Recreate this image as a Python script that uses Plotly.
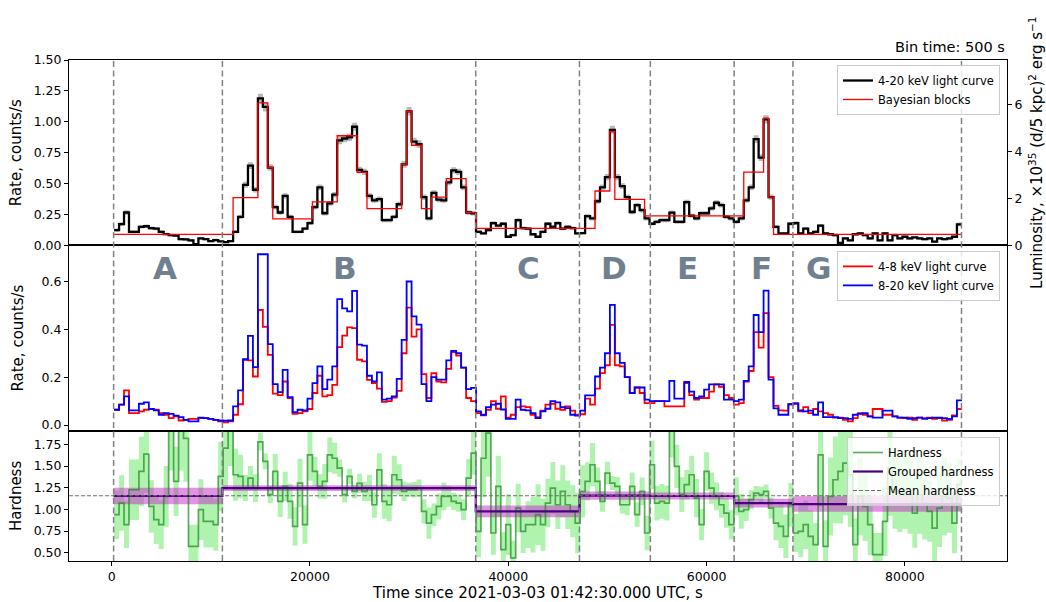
import numpy as np
import plotly.graph_objects as go

# ---------------- data ----------------
T0 = 250.0          # start of first bin, s
BIN = 500.0         # bin time, s

rate_total = [
0.123,0.172,0.266,0.11,0.11,0.15,0.155,0.14,0.135,0.11,0.091,0.083,0.08,0.05,0.048,0.04,0.01,0.056,0.05,0.035,
0.043,0.032,0.027,0.035,0.11,0.23,0.49,0.645,0.45,1.19,1.12,0.63,0.31,0.266,0.40,0.23,0.11,0.11,0.135,0.18,
0.31,0.47,0.26,0.34,0.41,0.85,0.865,0.875,0.96,0.61,0.595,0.40,0.365,0.375,0.204,0.204,0.23,0.333,0.655,1.085,
0.84,0.82,0.39,0.218,0.425,0.37,0.365,0.51,0.607,0.595,0.47,0.266,0.26,0.11,0.097,0.124,0.18,0.16,0.175,0.07,
0.083,0.204,0.14,0.135,0.09,0.07,0.11,0.175,0.15,0.18,0.135,0.15,0.14,0.097,0.1,0.236,0.218,0.357,0.47,0.553,
0.935,0.553,0.48,0.39,0.27,0.325,0.285,0.218,0.175,0.19,0.204,0.204,0.265,0.19,0.19,0.35,0.24,0.218,0.26,0.26,
0.30,0.345,0.325,0.23,0.218,0.19,0.218,0.365,0.47,0.86,0.71,1.02,0.39,0.15,0.097,0.097,0.175,0.18,0.097,0.135,
0.097,0.11,0.16,0.097,0.09,0.083,0.02,0.056,0.04,0.09,0.097,0.083,0.056,0.097,0.04,0.097,0.04,0.083,0.056,0.07,
0.056,0.065,0.056,0.05,0.056,0.03,0.056,0.05,0.056,0.07,0.17]

rate_total_err = [
0.013,0.015,0.018,0.012,0.012,0.014,0.014,0.013,0.013,0.012,0.011,0.011,0.011,0.01,0.01,0.01,0.008,0.01,0.01,0.009,0.01,0.009,0.009,0.009,
0.012,0.017,0.024,0.027,0.023,
0.037,0.036,0.027,
0.019,0.018,0.022,0.017,0.012,0.012,0.013,0.015,
0.019,0.023,0.018,0.02,0.022,
0.031,0.031,0.031,0.033,0.027,0.026,
0.022,0.02,0.021,0.016,0.016,0.017,0.02,
0.027,0.035,0.03,0.03,
0.022,0.016,0.022,0.02,0.02,0.024,0.026,0.026,0.023,0.018,0.018,
0.012,0.011,0.012,0.015,0.014,0.015,0.01,0.011,0.016,0.013,0.013,0.011,0.01,0.012,0.015,0.014,0.015,0.013,0.014,0.013,0.011,0.011,0.017,0.016,
0.02,0.023,0.025,0.032,0.025,0.023,0.021,0.018,0.019,0.018,
0.016,0.015,0.015,0.016,0.016,0.018,0.015,0.015,0.02,0.016,0.016,0.017,0.017,0.018,0.02,0.019,0.016,0.016,0.015,0.016,
0.021,0.023,0.031,0.028,0.033,0.021,
0.014,0.011,0.011,0.015,0.015,0.011,0.013,0.011,0.012,0.014,0.011,0.011,0.011,0.008,0.01,0.009,0.011,0.011,0.011,0.01,
0.011,0.009,0.011,0.009,0.011,0.01,0.01,0.01,0.01,0.01,0.01,0.01,0.008,0.01,0.01,0.01,0.01,0.015]

rate_soft = [
0.064,0.085,0.145,0.05,0.05,0.057,0.064,0.067,0.064,0.05,0.043,0.029,0.036,0.019,0.022,0.026,0.026,0.029,0.029,0.026,
0.022,0.015,0.011,0.015,0.043,0.087,0.273,0.27,0.203,0.481,0.41,0.293,0.131,0.125,0.182,0.113,0.047,0.05,0.057,0.067,
0.134,0.206,0.12,0.125,0.168,0.326,0.374,0.408,0.405,0.273,0.266,0.189,0.175,0.152,0.097,0.1,0.115,0.143,0.30,0.491,
0.37,0.40,0.213,0.113,0.217,0.182,0.178,0.235,0.305,0.29,0.24,0.113,0.1,0.05,0.04,0.064,0.1,0.068,0.12,0.031,
0.043,0.075,0.078,0.075,0.043,0.033,0.06,0.085,0.089,0.068,0.064,0.078,0.06,0.043,0.045,0.11,0.085,0.152,0.217,0.25,
0.419,0.25,0.245,0.2,0.134,0.157,0.134,0.092,0.092,0.1,0.1,0.078,0.078,0.078,0.078,0.175,0.125,0.106,0.113,0.113,
0.14,0.17,0.16,0.125,0.113,0.085,0.092,0.182,0.226,0.388,0.324,0.468,0.2,0.08,0.061,0.06,0.087,0.09,0.057,0.075,
0.05,0.067,0.057,0.05,0.043,0.031,0.031,0.022,0.015,0.029,0.05,0.043,0.036,0.067,0.067,0.043,0.043,0.036,0.031,0.029,
0.031,0.022,0.031,0.029,0.031,0.026,0.029,0.019,0.022,0.04,0.067]

rate_hard = [
0.064,0.085,0.12,0.061,0.061,0.089,0.095,0.067,0.061,0.043,0.05,0.047,0.039,0.033,0.022,0.015,0.015,0.031,0.029,0.026,
0.022,0.019,0.018,0.019,0.078,0.145,0.275,0.373,0.242,0.714,0.714,0.338,0.171,0.138,0.231,0.117,0.054,0.064,0.061,0.11,
0.175,0.245,0.15,0.19,0.245,0.526,0.488,0.475,0.561,0.336,0.332,0.206,0.182,0.22,0.106,0.11,0.12,0.193,0.356,0.6,
0.454,0.42,0.171,0.1,0.2,0.19,0.19,0.27,0.31,0.3,0.24,0.15,0.155,0.057,0.043,0.075,0.085,0.089,0.065,0.026,
0.026,0.106,0.064,0.061,0.05,0.029,0.057,0.068,0.1,0.095,0.075,0.071,0.043,0.039,0.06,0.124,0.124,0.203,0.24,0.30,
0.502,0.30,0.26,0.2,0.134,0.157,0.157,0.106,0.1,0.1,0.1,0.1,0.185,0.11,0.11,0.18,0.14,0.113,0.12,0.148,
0.17,0.17,0.17,0.106,0.106,0.1,0.106,0.185,0.245,0.46,0.388,0.562,0.19,0.07,0.043,0.043,0.087,0.09,0.061,0.057,
0.06,0.043,0.095,0.033,0.033,0.033,0.029,0.029,0.026,0.043,0.047,0.05,0.036,0.031,0.031,0.06,0.06,0.036,0.031,0.031,
0.026,0.029,0.031,0.026,0.029,0.031,0.031,0.029,0.026,0.036,0.103]

hardness = [
0.939,1.073,0.824,1.227,1.227,1.438,1.638,1.035,0.882,0.824,1.15,2.0,1.323,2.0,1.82,0.574,0.574,0.997,0.862,0.862,
0.824,1.38,1.707,2.0,1.40,1.38,1.246,1.36,1.246,1.78,1.554,1.17,1.438,1.093,1.265,1.093,0.805,1.304,0.824,1.63,
1.438,1.265,1.323,1.63,1.59,1.476,1.17,1.38,1.208,1.30,1.208,1.246,1.054,1.457,1.093,1.054,1.40,1.342,1.208,1.227,
1.227,1.246,0.978,0.843,0.939,1.035,1.15,1.15,1.093,1.073,0.997,1.362,1.65,0.747,1.59,1.88,0.728,1.265,0.536,0.824,
0.44,1.016,0.747,0.824,0.824,0.939,0.824,1.073,1.246,1.054,1.208,1.054,0.978,0.843,1.208,1.323,1.515,1.323,1.093,1.419,
1.304,1.265,1.054,1.054,1.265,0.939,1.208,0.728,1.515,1.073,1.093,1.073,2.0,1.496,1.17,1.285,1.40,1.131,0.824,1.438,
1.246,1.15,1.054,0.958,0.824,1.15,0.978,0.997,1.112,1.189,1.17,1.208,1.016,0.843,0.805,0.69,1.054,0.728,0.747,0.824,
0.69,0.594,1.63,0.574,1.15,1.342,1.438,1.534,1.40,0.594,1.15,1.035,0.824,0.478,0.478,0.862,1.476,1.227,1.189,1.227,
1.17,0.958,1.17,1.073,0.978,0.785,1.016,1.15,1.131,0.843,1.285]

hardness_err = [
0.28,0.32,0.27,0.35,0.35,0.4,0.45,0.3,0.28,0.28,0.35,
0.55,0.4,0.55,0.5,
0.25,0.25,0.35,0.3,0.3,0.3,0.4,0.45,0.5,
0.3,0.25,
0.15,0.14,0.16,
0.1,0.09,0.1,
0.2,0.18,0.17,0.2,
0.22,0.28,0.22,0.3,
0.17,0.14,0.2,0.2,0.18,
0.1,0.09,0.09,0.08,0.11,0.11,
0.15,0.15,0.19,0.2,0.19,0.22,0.18,
0.11,0.08,0.09,0.1,
0.14,0.18,0.13,0.15,0.16,
0.12,0.1,0.1,0.12,
0.22,0.25,
0.3,0.45,0.5,0.25,0.35,0.2,0.35,0.2,0.28,0.25,0.27,0.32,0.35,0.3,0.28,0.3,0.28,0.3,0.28,0.3,0.35,0.3,0.22,0.25,
0.16,0.12,0.13,
0.08,0.11,0.1,0.12,
0.16,0.14,0.16,
0.2,0.28,0.2,0.2,0.2,0.4,0.25,0.2,0.17,0.22,0.22,0.18,0.22,0.18,0.16,0.15,0.17,0.17,0.22,0.2,
0.13,0.11,0.08,0.09,0.08,0.12,
0.2,0.25,0.25,0.25,0.22,0.3,0.28,0.3,0.25,0.6,0.3,0.45,0.5,0.6,0.6,0.6,0.3,0.45,0.4,0.35,
0.25,0.25,0.4,0.55,0.45,0.45,0.45,0.45,0.4,0.45,0.42,0.35,0.4,0.45,0.45,0.4,0.35,0.3]

# Bayesian blocks (edges in s, rates)
bb_edges = [250, 12250, 14750, 15750, 16250, 20250, 22750, 24750, 25750, 29250, 29750, 30250,
            31250, 32250, 33750, 35750, 36750, 48750, 50250, 50750, 53750, 63750, 65750, 66250,
            66750, 85750]
bb_rates = [0.089, 0.387, 1.153, 0.63, 0.215, 0.352, 0.887, 0.59, 0.298, 0.655, 1.085, 0.81,
            0.298, 0.39, 0.54, 0.265, 0.137, 0.44, 0.92, 0.373, 0.239, 0.593, 1.03, 0.39, 0.089]

# Intervals A..G
region_edges = [200, 11170, 36720, 47180, 54330, 62780, 68710, 85710]
region_names = ["A", "B", "C", "D", "E", "F", "G"]
label_times = [5430, 23540, 42050, 50700, 58050, 65490, 71330]
group_hard = [1.155, 1.245, 0.978, 1.16, 1.155, 1.073, 1.062]
group_hard_err = [0.096, 0.033, 0.067, 0.048, 0.04, 0.05, 0.09]
mean_hardness = 1.158

LUM_PER_RATE = 5.28   # 1 count/s -> 1e35 erg/s at 5 kpc

n = len(rate_total)
for arr in (rate_total_err, rate_soft, rate_hard, hardness, hardness_err):
    assert len(arr) == n, (len(arr), n)
assert len(bb_edges) == len(bb_rates) + 1

edges = T0 + BIN * np.arange(n + 1)


def stepy(v):
    v = list(v)
    return v + [v[-1]]


fig = go.Figure()
FONT = "DejaVu Sans"

# ---------- top panel ----------
rt = np.array(rate_total)
re = np.array(rate_total_err)
fig.add_trace(go.Scatter(x=edges, y=stepy(rt - re), mode="lines", line=dict(width=0, shape="hv"),
                         showlegend=False, hoverinfo="skip", xaxis="x3", yaxis="y5"))
fig.add_trace(go.Scatter(x=edges, y=stepy(rt + re), mode="lines", line=dict(width=0, shape="hv"),
                         fill="tonexty", fillcolor="rgba(128,128,128,0.55)",
                         showlegend=False, hoverinfo="skip", xaxis="x3", yaxis="y5"))
fig.add_trace(go.Scatter(x=edges, y=stepy(rt), mode="lines", name="4-20 keV light curve",
                         line=dict(color="black", width=2.3, shape="hv"),
                         xaxis="x3", yaxis="y5", legend="legend"))
fig.add_trace(go.Scatter(x=bb_edges, y=stepy(bb_rates), mode="lines", name="Bayesian blocks",
                         line=dict(color="red", width=1.3, shape="hv"),
                         xaxis="x3", yaxis="y5", legend="legend"))

# ---------- middle panel ----------
fig.add_trace(go.Scatter(x=edges, y=stepy(rate_soft), mode="lines", name="4-8 keV light curve",
                         line=dict(color="red", width=1.8, shape="hv"),
                         xaxis="x2", yaxis="y2", legend="legend2"))
fig.add_trace(go.Scatter(x=edges, y=stepy(rate_hard), mode="lines", name="8-20 keV light curve",
                         line=dict(color="blue", width=1.8, shape="hv"),
                         xaxis="x2", yaxis="y2", legend="legend2"))

# ---------- bottom panel ----------
h = np.array(hardness)
he = np.array(hardness_err)
fig.add_trace(go.Scatter(x=edges, y=stepy(h - he), mode="lines", line=dict(width=0, shape="hv"),
                         showlegend=False, hoverinfo="skip", xaxis="x", yaxis="y"))
fig.add_trace(go.Scatter(x=edges, y=stepy(h + he), mode="lines", line=dict(width=0, shape="hv"),
                         fill="tonexty", fillcolor="rgba(144,238,144,0.72)",
                         showlegend=False, hoverinfo="skip", xaxis="x", yaxis="y"))
gh = np.array(group_hard)
ge = np.array(group_hard_err)
fig.add_trace(go.Scatter(x=region_edges, y=stepy(gh - ge), mode="lines", line=dict(width=0, shape="hv"),
                         showlegend=False, hoverinfo="skip", xaxis="x", yaxis="y"))
fig.add_trace(go.Scatter(x=region_edges, y=stepy(gh + ge), mode="lines", line=dict(width=0, shape="hv"),
                         fill="tonexty", fillcolor="rgba(200,40,200,0.5)",
                         showlegend=False, hoverinfo="skip", xaxis="x", yaxis="y"))
fig.add_trace(go.Scatter(x=edges, y=stepy(h), mode="lines", name="Hardness",
                         line=dict(color="rgba(30,135,30,0.7)", width=1.7, shape="hv"),
                         xaxis="x", yaxis="y", legend="legend3"))
fig.add_trace(go.Scatter(x=region_edges, y=stepy(gh), mode="lines", name="Grouped hardness",
                         line=dict(color="#4b0082", width=2.2, shape="hv"),
                         xaxis="x", yaxis="y", legend="legend3"))
fig.add_trace(go.Scatter(x=[-4300, 90300], y=[mean_hardness, mean_hardness], mode="lines",
                         name="Mean hardness",
                         line=dict(color="#707070", width=1.1, dash="4px,2px"),
                         xaxis="x", yaxis="y", legend="legend3"))

# ---------- axes ----------
XR = [-4300, 90300]
H_TOT = 501.3
d_bot = 130.3 / H_TOT
d_mid = (130.3 + 185.5) / H_TOT
tickfont = dict(family=FONT, size=12.5, color="black")
titlefont = dict(family=FONT, size=15, color="black")
common_x = dict(range=XR, showline=True, linecolor="black", linewidth=1, mirror=True,
                showgrid=False, zeroline=False)
common_y = dict(showline=True, linecolor="black", linewidth=1, mirror=True, showgrid=False,
                zeroline=False, ticks="outside", ticklen=4, tickcolor="black", tickfont=tickfont)

fig.update_layout(
    xaxis=dict(**common_x, anchor="y", ticks="outside", ticklen=4, tickcolor="black",
               tickvals=[0, 20000, 40000, 60000, 80000], ticktext=["0", "20000", "40000", "60000", "80000"],
               tickfont=tickfont,
               title=dict(text="Time since 2021-03-03 01:42:30.000 UTC, s", font=titlefont, standoff=5)),
    xaxis2=dict(**common_x, anchor="y2", matches="x", showticklabels=False, ticks=""),
    xaxis3=dict(**common_x, anchor="y5", matches="x", showticklabels=False, ticks=""),
    yaxis=dict(**common_y, domain=[0, d_bot], range=[0.405, 1.907], anchor="x",
               tickvals=[0.5, 0.75, 1.0, 1.25, 1.5, 1.75], tickformat=".2f",
               title=dict(text="Hardness", font=titlefont, standoff=8)),
    yaxis2=dict(**common_y, domain=[d_bot, d_mid], range=[-0.024, 0.751], anchor="x2",
                tickvals=[0.0, 0.2, 0.4, 0.6], tickformat=".1f",
                title=dict(text="Rate, counts/s", font=titlefont, standoff=14)),
    yaxis5=dict(**common_y, domain=[d_mid, 1], range=[0, 1.5], anchor="x3",
                tickvals=[0, 0.25, 0.5, 0.75, 1.0, 1.25, 1.5], tickformat=".2f",
                title=dict(text="Rate, counts/s", font=titlefont, standoff=8)),
    yaxis6=dict(overlaying="y5", side="right", anchor="x3", range=[0, 1.5 * LUM_PER_RATE],
                showgrid=False, zeroline=False, ticks="outside", ticklen=4, tickcolor="black",
                tickvals=[0, 2, 4, 6], tickfont=tickfont,
                title=dict(text="Luminosity, \u00d710<sup>35</sup> (d/5 kpc)<sup>2</sup> erg s<sup>\u22121</sup>",
                           font=titlefont, standoff=10)),
)
# dummy trace so the luminosity axis is drawn
fig.add_trace(go.Scatter(x=[None], y=[None], xaxis="x3", yaxis="y6", showlegend=False, hoverinfo="skip"))

# vertical dashed region boundaries
for t in region_edges:
    fig.add_shape(type="line", xref="x", yref="paper", x0=t, x1=t, y0=0, y1=1,
                  line=dict(color="#808080", width=1.5, dash="6px,3.5px"), layer="above")

# letters
for name, xc in zip(region_names, label_times):
    fig.add_annotation(x=xc, y=0.655, xref="x2", yref="y2", text="<b>%s</b>" % name,
                       showarrow=False, font=dict(family=FONT, size=31, color="#708090"))

fig.add_annotation(x=1, y=1, xref="paper", yref="paper", xanchor="right", yanchor="bottom",
                   yshift=3, text="Bin time: 500 s", showarrow=False,
                   font=dict(family=FONT, size=14.5, color="black"))

leg_common = dict(bgcolor="rgba(255,255,255,0.8)", bordercolor="#cccccc", borderwidth=1,
                  font=dict(family=FONT, size=11.5, color="black"), xanchor="right", yanchor="top",
                  tracegroupgap=0, itemwidth=30, traceorder="normal")
fig.update_layout(
    legend=dict(**leg_common, x=0.9925, y=0.99),
    legend2=dict(**leg_common, x=0.9925, y=0.619),
    legend3=dict(**leg_common, x=0.9925, y=0.2475),
)

fig.update_layout(width=1046, height=602, margin=dict(l=69, r=39, t=60, b=41, autoexpand=False),
                  plot_bgcolor="white", paper_bgcolor="white", font=dict(family=FONT),
                  hovermode=False)

fig.write_html("out.html")
